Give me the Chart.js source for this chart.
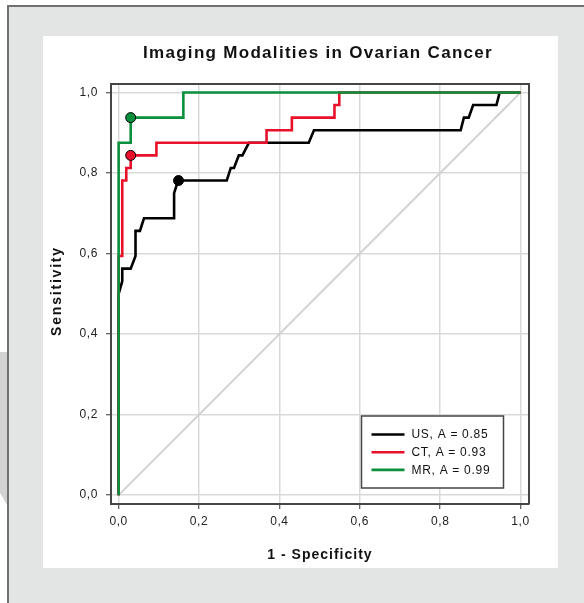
<!DOCTYPE html>
<html>
<head>
<meta charset="utf-8">
<script src="https://cdn.jsdelivr.net/npm/chart.js@4"></script>
<style>
  html, body { margin: 0; padding: 0; background: #fff; }
  body { width: 584px; height: 603px; position: relative; overflow: hidden; font-family: "Liberation Sans", Arial, sans-serif; }
  #shade { position: absolute; left: 0; top: 352px; width: 7px; height: 153px; background: #d2d2d2; clip-path: polygon(0 0, 100% 0, 100% 100%, 0 92%); }
  #frame { position: absolute; left: 7px; top: 5px; right: 0; bottom: 0; background: #e3e5e4; border-left: 2px solid #707070; border-top: 2px solid #707070; }
  #panel { position: absolute; left: 43px; top: 36px; width: 515px; height: 532px; background: #fff; }
</style>
</head>
<body>
<div id="shade"></div>
<div id="frame"></div>
<div id="panel"><canvas id="roc" width="515" height="532"></canvas></div>
<script>
const chartTitle = 'Imaging Modalities in Ovarian Cancer';
const xTitle = '1 - Specificity';
const yTitle = 'Sensitivity';
const xTickValues = [0, 0.2, 0.4, 0.6, 0.8, 1.0];
const yTickValues = [0, 0.2, 0.4, 0.6, 0.8, 1.0];
const seriesNames = ['US', 'CT', 'MR'];
const seriesAreas = ['0.85', '0.93', '0.99'];
const seriesColors = ['#000000', '#e8102a', '#0a8f3c'];

// ROC curves (1 - specificity, sensitivity)
const usFpr = [0, 0, 0.009, 0.009, 0.03, 0.042, 0.042, 0.053, 0.063, 0.138, 0.138, 0.148, 0.269, 0.279, 0.287, 0.299, 0.308, 0.324, 0.473, 0.486, 0.851, 0.859, 0.871, 0.882, 0.94, 0.948, 1];
const usTpr = [0, 0.5, 0.53125, 0.5625, 0.5625, 0.59375, 0.65625, 0.65625, 0.6875, 0.6875, 0.75, 0.78125, 0.78125, 0.8125, 0.8125, 0.84375, 0.84375, 0.875, 0.875, 0.90625, 0.90625, 0.9375, 0.9375, 0.96875, 0.96875, 1, 1];
const ctFpr = [0, 0, 0.009, 0.009, 0.019, 0.019, 0.03, 0.03, 0.094, 0.094, 0.368, 0.368, 0.431, 0.431, 0.537, 0.537, 0.549, 0.549, 1];
const ctTpr = [0, 0.59375, 0.59375, 0.78125, 0.78125, 0.8125, 0.8125, 0.84375, 0.84375, 0.875, 0.875, 0.90625, 0.90625, 0.9375, 0.9375, 0.96875, 0.96875, 1, 1];
const mrFpr = [0, 0, 0.03, 0.03, 0.161, 0.161, 1];
const mrTpr = [0, 0.875, 0.875, 0.9375, 0.9375, 1, 1];
// optimal cut-off points
const cutFpr = [0.149, 0.03, 0.03];
const cutTpr = [0.78125, 0.84375, 0.9375];
const diagonal = [0, 1];

const toPoints = (xs, ys) => xs.map((x, i) => ({ x, y: ys[i] }));
const fmt = v => v.toFixed(1).replace('.', ',');

const curves = [toPoints(usFpr, usTpr), toPoints(ctFpr, ctTpr), toPoints(mrFpr, mrTpr)];

const datasets = [];
curves.forEach((pts, i) => {
  datasets.push({
    label: seriesNames[i], data: pts, borderColor: seriesColors[i], borderWidth: 2.6,
    pointRadius: 0, fill: false, tension: 0, order: 10 - i * 2
  });
});
cutFpr.forEach((x, i) => {
  datasets.push({
    label: seriesNames[i] + ' cut-off', data: [{ x, y: cutTpr[i] }], showLine: false,
    pointRadius: 5, pointBackgroundColor: seriesColors[i], pointBorderColor: '#000', pointBorderWidth: 1, order: 0
  });
});
datasets.push({
  label: 'reference', data: toPoints(diagonal, diagonal), borderColor: '#d2d2d2', borderWidth: 2,
  pointRadius: 0, order: 20
});

const tickFont = { family: 'Liberation Sans', size: 12 };
const axis = (ticks, min, max, fitProp, fitVal, pad) => ({
  type: 'linear', min, max,
  afterBuildTicks: s => { s.ticks = ticks.map(value => ({ value })); },
  afterFit: s => { s[fitProp] = fitVal; },
  grid: { color: '#d9d9d9', lineWidth: 1.5, tickColor: '#333', tickLength: 5, tickWidth: 1 },
  border: { display: true, color: '#454545', width: 2 },
  ticks: { callback: fmt, color: '#222', font: tickFont, padding: pad }
});

// slight letter spacing for the tick labels, as in the original
const spacing = {
  id: 'spacing',
  beforeDraw(chart) { chart.ctx.letterSpacing = '0.6px'; },
  afterDatasetsDraw(chart) { chart.ctx.letterSpacing = '0px'; }
};

const decor = {
  id: 'decor',
  afterDraw(chart) {
    const { ctx, chartArea: a } = chart;
    ctx.save();
    ctx.strokeStyle = '#454545';
    ctx.lineWidth = 2;
    ctx.beginPath();
    ctx.moveTo(a.left, a.top); ctx.lineTo(a.right, a.top); ctx.lineTo(a.right, a.bottom);
    ctx.stroke();

    const cx = (a.left + a.right) / 2;
    ctx.fillStyle = '#111';
    ctx.textAlign = 'center';
    ctx.textBaseline = 'alphabetic';
    ctx.font = 'bold 17px "Liberation Sans", Arial';
    ctx.letterSpacing = '1.3px';
    ctx.fillText(chartTitle, cx - 2, 22);

    ctx.font = 'bold 14px "Liberation Sans", Arial';
    ctx.letterSpacing = '1px';
    ctx.textBaseline = 'middle';
    ctx.fillText(xTitle, cx, 519);
    ctx.save();
    ctx.translate(14.5, (a.top + a.bottom) / 2 - 3);
    ctx.rotate(-Math.PI / 2);
    ctx.letterSpacing = '1.8px';
    ctx.fillText(yTitle, 0, 0);
    ctx.restore();

    // legend box
    const w = 142, h = 72;
    const bx = a.right - 25.5 - w, by = a.bottom - 16 - h;
    ctx.fillStyle = '#fff';
    ctx.fillRect(bx, by, w, h);
    ctx.strokeStyle = '#454545';
    ctx.lineWidth = 1.5;
    ctx.strokeRect(bx, by, w, h);
    ctx.font = '12px "Liberation Sans", Arial';
    ctx.letterSpacing = '0.7px';
    ctx.textAlign = 'left';
    seriesNames.forEach((name, i) => {
      const y = by + 18.5 + i * 17.7;
      ctx.strokeStyle = seriesColors[i];
      ctx.lineWidth = 2.6;
      ctx.beginPath();
      ctx.moveTo(bx + 10, y); ctx.lineTo(bx + 43, y);
      ctx.stroke();
      ctx.fillStyle = '#111';
      ctx.fillText(name + ', A = ' + seriesAreas[i], bx + 50, y + 0.5);
    });
    ctx.restore();
  }
};

new Chart(document.getElementById('roc'), {
  type: 'line',
  data: { datasets },
  options: {
    responsive: false,
    animation: false,
    layout: { padding: { top: 48, right: 29, left: 0, bottom: 0 } },
    plugins: { legend: { display: false }, title: { display: false }, tooltip: { enabled: false } },
    scales: {
      x: axis(xTickValues, -0.019, 1.021, 'height', 64, 5),
      y: axis(yTickValues, -0.022, 1.021, 'width', 68, 8)
    }
  },
  plugins: [spacing, decor]
});
</script>
</body>
</html>
